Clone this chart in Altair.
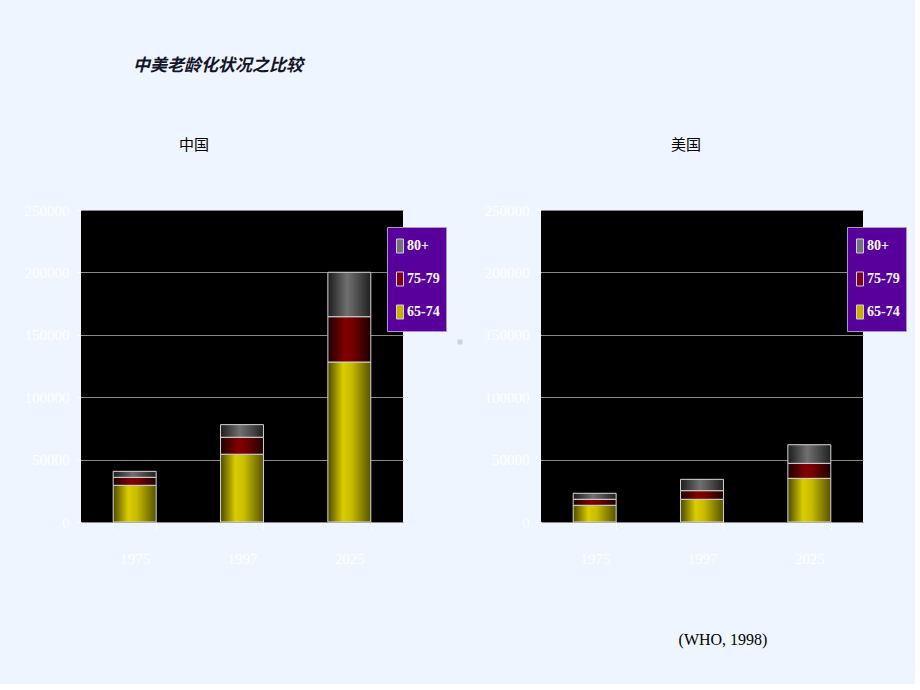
import altair as alt
import pandas as pd

years = ["1975", "1997", "2025"]
groups = ["65-74", "75-79", "80+"]
legend_order = ["80+", "75-79", "65-74"]

china_65_74 = [29400, 54300, 128200]
china_75_79 = [6400, 13600, 36300]
china_80p = [4800, 10100, 35600]

us_65_74 = [13400, 18200, 35000]
us_75_79 = [4800, 6900, 12000]
us_80p = [4800, 9100, 14900]

y_ticks = [0, 50000, 100000, 150000, 200000, 250000]

main_title = "中美老龄化状况之比较"
panel_titles = ["中国", "美国"]
footnote = "(WHO, 1998)"

BG = "#EEF5FE"


def make_df(a, b, c):
    rows = []
    for i, yr in enumerate(years):
        lo = 0
        for g, v in zip(groups, [a[i], b[i], c[i]]):
            rows.append(dict(year=yr, group=g, value=v, lo=lo, hi=lo + v))
            lo += v
    return pd.DataFrame(rows)


def grad(stops):
    return alt.LinearGradient(
        gradient="linear", x1=0, x2=1, y1=0, y2=0,
        stops=[alt.GradientStop(color=c, offset=o) for o, c in stops],
    )


GRAD = {
    "65-74": grad([(0, "#4d4a00"), (0.35, "#dacd00"), (0.55, "#c8bc00"), (1, "#565300")]),
    "75-79": grad([(0, "#1a0000"), (0.4, "#820000"), (0.6, "#720000"), (1, "#1a0000")]),
    "80+": grad([(0, "#1c1c1c"), (0.45, "#707070"), (0.6, "#5c5c5c"), (1, "#202020")]),
}
SWATCH = ["#76707e", "#800018", "#c8b000"]

# tall narrow swatch
SWATCH_PATH = "M-1,-2L1,-2L1,2L-1,2Z"


def panel(df, title, title_dx, extra=None):
    x = alt.X(
        "year:N", sort=years,
        scale=alt.Scale(paddingInner=0.6, paddingOuter=0.3),
        axis=alt.Axis(title=None, labelAngle=0, tickBand="extent", tickSize=7,
                      labelPadding=22, grid=False, domain=False),
    )
    y = alt.Y(
        "lo:Q", scale=alt.Scale(domain=[0, 250000]),
        axis=alt.Axis(title=None, values=y_ticks, format="d", grid=True,
                      tickSize=4, labelPadding=8, domain=False),
    )
    base = alt.Chart(df).encode(x=x, y=y, y2="hi:Q")
    legend_layer = base.mark_bar().encode(
        color=alt.Color(
            "group:N",
            scale=alt.Scale(domain=legend_order, range=SWATCH),
            legend=alt.Legend(
                title=None, orient="none", legendX=306, legendY=17,
                direction="vertical", fillColor="#58009c", strokeColor="#a898c8",
                padding=6, clipHeight=26, symbolType=SWATCH_PATH,
                symbolSize=49, symbolStrokeColor="#d0d0d0", symbolStrokeWidth=1,
                labelColor="white", labelFont="Liberation Serif",
                labelFontWeight="bold", labelFontSize=14, rowPadding=7,
                labelOffset=0,
            ),
        )
    )
    layers = [legend_layer]
    for g in groups:
        layers.append(
            base.transform_filter(alt.datum.group == g).mark_bar(
                color=GRAD[g], stroke="#d4d4d4", strokeWidth=1
            )
        )
    if extra is not None:
        layers.extend(extra)
    return alt.layer(*layers).properties(
        width=322, height=312,
        title=alt.TitleParams(
            title, font="Noto Sans CJK SC", fontSize=15, fontWeight="normal",
            color="black", dx=title_dx, offset=50, anchor="middle", frame="group",
        ),
    )


note_df = pd.DataFrame({"t": [footnote]})
foot = alt.Chart(note_df).mark_text(
    font="Liberation Serif", fontSize=16, color="black"
).encode(text="t:N", x=alt.value(182), y=alt.value(430))

dot_df = pd.DataFrame({"t": ["."]})
dot = alt.Chart(dot_df).mark_square(size=25, color="#cdd3dc", opacity=1).encode(
    x=alt.value(379), y=alt.value(132)
)

left = panel(make_df(china_65_74, china_75_79, china_80p), panel_titles[0], -48, [dot])
right = panel(make_df(us_65_74, us_75_79, us_80p), panel_titles[1], -16, [foot])

chart = (
    alt.hconcat(left, right, spacing=138, bounds="flush")
    .resolve_scale(color="independent", x="independent", y="independent")
    .resolve_legend(color="independent")
    .properties(
        background=BG,
        padding={"left": 24, "top": 57, "right": 8, "bottom": 36},
        title=alt.TitleParams(
            main_title, font="Noto Sans CJK SC", fontSize=17, fontWeight="bold",
            fontStyle="italic", color="#141428", anchor="start", dx=109, offset=63,
        ),
    )
    .configure_view(fill="black", strokeWidth=0)
    .configure_axis(
        labelFont="Liberation Serif", labelFontSize=15, labelColor="white",
        tickColor="white", gridColor="#8a8a8a", gridWidth=1,
    )
)

chart.save("out.html", embed_options={"renderer": "svg", "actions": False})
